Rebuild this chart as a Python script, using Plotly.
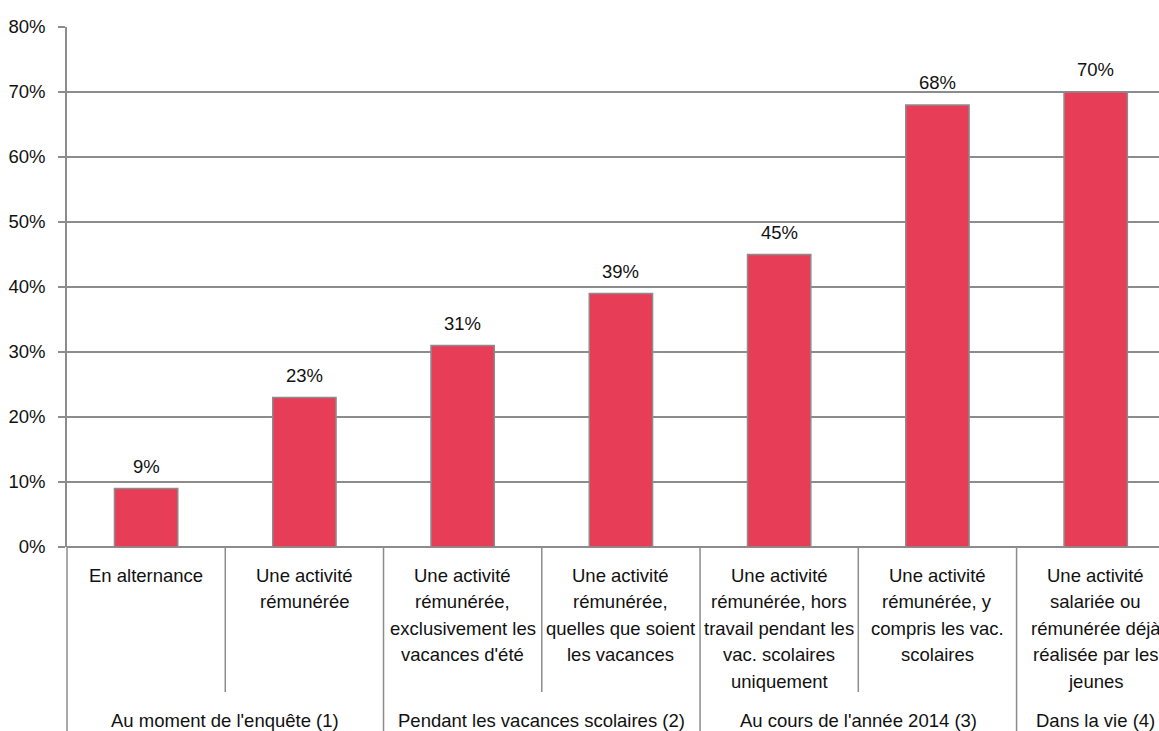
import plotly.graph_objects as go

# Share of young people with a paid activity, by reference period
categories = [
    "En alternance",
    "Une activité<br>rémunérée",
    "Une activité<br>rémunérée,<br>exclusivement les<br>vacances d'été",
    "Une activité<br>rémunérée,<br>quelles que soient<br>les vacances",
    "Une activité<br>rémunérée, hors<br>travail pendant les<br>vac. scolaires<br>uniquement",
    "Une activité<br>rémunérée, y<br>compris les vac.<br>scolaires",
    "Une activité<br>salariée ou<br>rémunérée déjà<br>réalisée par les<br>jeunes",
]
values = [9, 23, 31, 39, 45, 68, 70]

groups = [
    "Au moment de l'enquête (1)",
    "Pendant les vacances scolaires (2)",
    "Au cours de l'année 2014 (3)",
    "Dans la vie (4)",
]
group_spans = [(0, 1), (2, 3), (4, 5), (6, 6)]

y_ticks = [0, 10, 20, 30, 40, 50, 60, 70, 80]

BAR = "#E73D57"
GREY = "#8C8C8C"
FONT = "Liberation Sans, Arial, sans-serif"
TXT = "#111111"
FS = 18.5

# plot area geometry (pixels)
H, T, B = 731, 27, 184
PLOT_H = H - T - B
AXIS_Y = H - B


def paper_y(py):
    return (AXIS_Y - py) / PLOT_H


x = list(range(len(categories)))

fig = go.Figure()
fig.add_trace(go.Bar(
    x=x, y=values, width=0.4,
    marker=dict(color=BAR, line=dict(color=GREY, width=1.5)),
    hoverinfo="skip",
))

annotations = []
# value labels above bars
for xi, v in zip(x, values):
    annotations.append(dict(x=xi, y=v, xref="x", yref="y", text=f"{v}%",
                            showarrow=False, yanchor="bottom", yshift=10,
                            font=dict(family=FONT, size=FS, color=TXT)))
# category labels under the axis, one annotation per text line
LINE0, LINE_STEP = 575, 26.6
for xi, c in zip(x, categories):
    for k, line in enumerate(c.split("<br>")):
        annotations.append(dict(x=xi, y=paper_y(LINE0 + k * LINE_STEP), xref="x", yref="paper",
                                text=line, showarrow=False, yanchor="middle",
                                font=dict(family=FONT, size=FS, color=TXT)))
# group labels
for g, (a, b) in zip(groups, group_spans):
    annotations.append(dict(x=(a + b) / 2, y=paper_y(720), xref="x", yref="paper", text=g,
                            showarrow=False, yanchor="middle",
                            font=dict(family=FONT, size=FS, color=TXT)))

shapes = []
# separators between categories inside a group (short) and between groups (long)
group_edges = {b for _, b in group_spans}
for i in range(len(categories) - 1):
    long = i in group_edges
    shapes.append(dict(type="line", xref="x", yref="paper",
                       x0=i + 0.5, x1=i + 0.5, y0=0, y1=paper_y(H + 2) if long else paper_y(692),
                       line=dict(color=GREY, width=1.5)))
# left axis extension into the label area
shapes.append(dict(type="line", xref="paper", yref="paper", x0=0, x1=0, y0=0, y1=paper_y(H + 2),
                   line=dict(color=GREY, width=1.5)))

fig.update_layout(
    width=1159, height=H,
    margin=dict(l=67, r=0, t=T, b=B),
    plot_bgcolor="white", paper_bgcolor="white",
    showlegend=False,
    bargap=0.6,
    annotations=annotations,
    shapes=shapes,
    font=dict(family=FONT, size=FS, color=TXT),
)
fig.update_xaxes(range=[-0.5, 6.4], showticklabels=False, showgrid=False,
                 zeroline=False, showline=False, ticks="", fixedrange=True)
fig.update_yaxes(range=[0, 80], tickvals=y_ticks, ticktext=[f"{t}%" for t in y_ticks],
                 showgrid=True, gridcolor=GREY, gridwidth=1.5,
                 zeroline=True, zerolinecolor=GREY, zerolinewidth=1.5,
                 showline=True, linecolor=GREY, linewidth=1.5,
                 ticks="outside", ticklen=7, tickcolor=GREY, tickwidth=1.5,
                 ticklabelstandoff=9,
                 tickfont=dict(family=FONT, size=FS, color=TXT))

fig.write_html("out.html")
